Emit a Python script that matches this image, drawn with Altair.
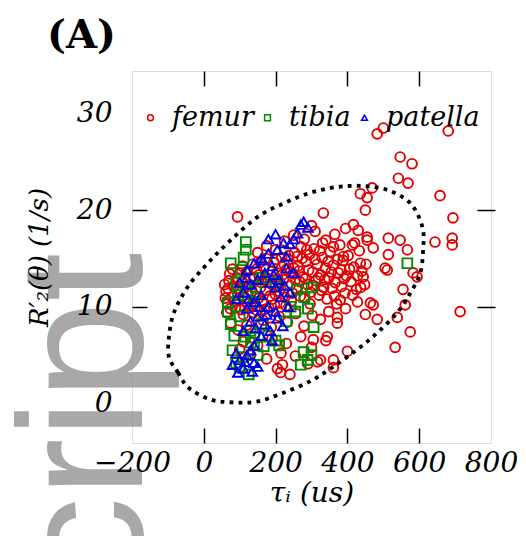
import altair as alt
import pandas as pd

# ---------------- data ----------------
series_names = ["femur", "tibia", "patella"]
series_colors = ["#e00000", "#008c00", "#0000e6"]
series_shapes = ["circle", "square", "triangle-up"]

femur_points = [
    (62, 11.6), (66, 10.3), (70, 12.7), (64, 9.4), (72, 13.4), (78, 11.0), (83, 12.1), (88, 9.9),
    (92, 13.0), (97, 10.7), (101, 11.8), (106, 12.6), (110, 9.2), (114, 10.9), (118, 13.6), (123, 11.4),
    (127, 12.3), (131, 10.1), (136, 14.4), (140, 12.9), (145, 11.1), (149, 9.6), (154, 13.3), (158, 12.0),
    (163, 10.5), (167, 14.1), (172, 11.7), (176, 13.0), (181, 9.9), (186, 12.4), (190, 10.8), (195, 14.6),
    (199, 11.3), (204, 13.5), (208, 12.1), (213, 10.4), (217, 15.1), (222, 12.8), (226, 11.0), (231, 13.9),
    (235, 14.9), (240, 12.2), (244, 10.6), (249, 13.4), (253, 15.6), (258, 11.9), (262, 14.2), (267, 12.6),
    (271, 16.2), (276, 13.1), (280, 10.9), (285, 14.7), (289, 12.3), (294, 15.4), (298, 11.5), (303, 13.6),
    (307, 16.0), (312, 12.7), (316, 14.4), (321, 11.2), (325, 13.3), (330, 15.1), (334, 12.0), (339, 14.0),
    (343, 10.8), (348, 13.0), (352, 15.7), (357, 11.9), (361, 14.3), (366, 12.5), (370, 10.3), (375, 13.5),
    (379, 16.4), (384, 12.1), (388, 14.8), (393, 11.4), (397, 13.2), (402, 15.3), (410, 12.6), (418, 14.1),
    (425, 11.8), (433, 15.8), (440, 13.7), (448, 12.3), (455, 16.9),
    (58, 12.3), (60, 10.9), (68, 11.9), (74, 9.8), (80, 13.9), (86, 10.6), (91, 11.9), (99, 13.5),
    (104, 9.7), (108, 14.2), (116, 12.0), (121, 10.3), (129, 13.0), (134, 11.6), (138, 9.4), (147, 13.9),
    (152, 10.9), (157, 14.6), (161, 12.5), (169, 9.7), (174, 15.0), (179, 12.8), (184, 11.1), (192, 13.7),
    (197, 10.2), (202, 14.9), (206, 12.9), (211, 11.6), (219, 13.3), (224, 14.4), (229, 10.1), (237, 15.3),
    (242, 13.6), (247, 11.4), (251, 14.0), (255, 12.8), (265, 13.7), (269, 11.1), (274, 15.0), (283, 12.9),
    (287, 15.9), (292, 13.8), (296, 10.3), (305, 12.2), (310, 14.9), (319, 13.0), (323, 15.8), (328, 11.7),
    (337, 12.8), (346, 14.7), (355, 13.6), (364, 11.1), (373, 14.9), (382, 13.8), (391, 12.9), (406, 13.9),
    (415, 11.2), (428, 13.2), (437, 12.0), (452, 14.4),
    (75, 8.3), (95, 7.6), (120, 8.1), (142, 7.2), (165, 8.6), (188, 7.9), (210, 9.0), (233, 8.4),
    (256, 9.3), (279, 8.0), (302, 9.1), (325, 8.7), (348, 9.5), (372, 8.9), (395, 9.8), (110, 6.4),
    (150, 6.0), (190, 6.7), (230, 6.2), (270, 6.9), (300, 5.8), (340, 6.5), (130, 5.0), (175, 4.6),
    (215, 5.2), (255, 4.9), (290, 4.1), (205, 3.6), (240, 3.0), (100, 5.6),
    (150, 15.6), (175, 16.3), (200, 15.9), (225, 16.8), (250, 17.4), (280, 17.0), (310, 17.8), (340, 16.9),
    (365, 17.5), (395, 18.1), (420, 16.6), (300, 18.4), (260, 15.2),
    (483, 27.9), (500, 28.5), (681, 28.2), (547, 25.5), (580, 24.8), (542, 23.3), (569, 22.8), (658, 21.5),
    (436, 21.7), (469, 22.3), (455, 21.3), (450, 20.0), (333, 19.7), (94, 19.3), (694, 19.2), (417, 18.5),
    (430, 17.9), (455, 17.2), (514, 17.1), (547, 16.9), (644, 16.7), (692, 17.1), (692, 16.4), (331, 16.6),
    (361, 16.2), (414, 16.4), (472, 16.1), (514, 15.4), (567, 15.9), (389, 15.2), (436, 14.5), (505, 14.0),
    (594, 13.1), (511, 13.8), (583, 13.5), (444, 13.1), (561, 10.2), (714, 9.5), (539, 8.9), (575, 7.4),
    (533, 5.8), (400, 5.4), (361, 4.5), (317, 4.3), (361, 3.7), (428, 10.5), (472, 10.2), (450, 9.2),
    (483, 8.7), (380, 10.7), (372, 8.3), (344, 6.9), (305, 6.6), (325, 4.5), (214, 3.2), (219, 4.0),
    (555, 11.8), (464, 10.4),
]

tibia_points = [
    (567, 14.5), (117, 16.7), (117, 15.9), (111, 15.1), (75, 14.5), (103, 13.8), (67, 10.4), (67, 9.5),
    (242, 10.0), (255, 9.5), (290, 9.8), (306, 7.9), (278, 5.3), (289, 4.5), (300, 5.0), (167, 5.9),
    (131, 6.3), (90, 12.5), (120, 11.5), (140, 10.5), (100, 9.0), (160, 8.2), (130, 7.5), (180, 7.0),
    (200, 6.5), (150, 5.0), (90, 4.2), (80, 5.5), (110, 4.8), (85, 7.0), (75, 8.2), (230, 8.5),
    (280, 11.0), (300, 12.0), (270, 4.0), (160, 13.0), (200, 12.5), (100, 3.8), (125, 3.0), (210, 6.0),
    (140, 6.8), (95, 11.2), (145, 12.0), (115, 6.9), (260, 11.8),
]

patella_points = [
    (278, 18.8), (261, 17.6), (290, 18.2), (270, 18.5), (222, 16.6), (205, 15.9), (240, 16.5), (180, 15.5),
    (160, 15.0), (140, 14.5), (190, 14.2), (120, 13.8), (170, 13.5), (150, 12.8), (130, 12.3), (200, 12.0),
    (110, 11.5), (160, 11.2), (140, 10.5), (180, 10.0), (120, 9.8), (200, 9.5), (150, 9.0), (130, 8.5),
    (170, 8.2), (220, 8.0), (110, 7.5), (160, 7.0), (190, 6.5), (140, 6.0), (210, 12.8), (230, 14.0),
    (100, 12.5), (90, 10.8), (120, 5.0), (100, 4.5), (80, 4.0), (140, 4.2), (110, 3.6), (95, 3.2),
    (130, 5.5), (150, 3.8), (250, 17.0), (230, 15.2), (180, 17.0), (200, 17.5),
    (120, 13.0), (165, 14.8), (185, 12.5), (215, 11.0), (235, 10.0), (205, 8.8), (175, 9.2), (145, 7.8),
    (125, 10.8), (195, 13.3), (225, 12.2), (250, 13.5), (240, 11.5), (155, 10.0), (185, 7.5), (115, 4.3),
    (135, 3.3), (90, 5.2),
]

# dotted ellipse
ellipse_points = [
    (-97, 4.8), (-72, 3.2), (-42, 1.6), (19, 0.4), (83, 0.1), (150, 0.2), (222, 1.1), (297, 2.3),
    (361, 3.8), (428, 5.6), (483, 7.3), (539, 9.4), (575, 11.4), (603, 13.5), (611, 15.9), (611, 17.9),
    (594, 19.7), (567, 21.0), (511, 22.1), (444, 22.5), (372, 22.4), (297, 21.8), (222, 20.7), (150, 19.3),
    (75, 16.9), (11, 14.5), (-44, 12.1), (-83, 9.4), (-97, 6.9),
]

x_ticks = [-200, 0, 200, 400, 600, 800]
y_ticks = [0, 10, 20, 30]
x_inner_ticks = [0, 200, 400, 600]
y_inner_ticks = [10, 20]
watermark_text = ["script"]

# ---------------- tables ----------------
rows = []
idx = 0
for name, pts in zip(series_names, [femur_points, tibia_points, patella_points]):
    for t, r in pts:
        rows.append({"tau": t, "r2": r, "bone": name, "idx": idx})
        idx += 1
df = pd.DataFrame(rows)

ell_df = pd.DataFrame({
    "tau": [p[0] for p in ellipse_points],
    "r2": [p[1] for p in ellipse_points],
    "k": list(range(len(ellipse_points))),
})
wm_df = pd.DataFrame({"w": watermark_text})

FONT = "DejaVu Serif"
xscale = alt.Scale(domain=[-200, 800], nice=False, zero=False)
yscale = alt.Scale(domain=[-4.1, 34.4], nice=False, zero=False)

x_bottom = alt.Axis(
    values=x_ticks, orient="bottom", offset=-15, tickSize=15, tickWidth=1.5, tickColor="black",
    tickOpacity={"condition": {"test": "datum.value < -100 || datum.value > 700", "value": 0}, "value": 1},
    domain=False, grid=False, labelFont=FONT, labelFontStyle="italic", labelFontSize=28,
    labelColor="black", labelPadding=6, labelOverlap=False, labelFlush=False,
    title="τᵢ  (us)", titleFont=FONT, titleFontStyle="italic", titleFontWeight="normal",
    titleFontSize=28, titleColor="black", titlePadding=2, zindex=1,
)
y_left = alt.Axis(
    values=y_ticks, orient="left", offset=-15, tickSize=15, tickWidth=1.5, tickColor="black",
    tickOpacity={"condition": {"test": "datum.value < 5 || datum.value > 25", "value": 0}, "value": 1},
    domain=False, grid=False, labelFont=FONT, labelFontStyle="italic", labelFontSize=28,
    labelColor="black", labelPadding=20, labelOverlap=False, labelFlush=False,
    title="R′₂(θ)  (1/s)", titleFont=FONT, titleFontStyle="italic", titleFontWeight="normal",
    titleFontSize=26, titleColor="black", titlePadding=24, zindex=1,
)
x_top = alt.Axis(
    values=x_inner_ticks, orient="top", offset=-15, tickSize=15, tickWidth=1.5, tickColor="black",
    domain=False, grid=False, labels=False, title=None,
)
y_right = alt.Axis(
    values=y_inner_ticks, orient="right", offset=-14, tickSize=18, tickWidth=1.5, tickColor="black",
    domain=False, grid=False, labels=False, title=None,
)

legend = alt.Legend(
    title=None, orient="none", legendX=5, legendY=33, direction="horizontal",
    labelFont=FONT, labelFontStyle="italic", labelFontSize=27, labelColor="black",
    symbolSize=34, symbolStrokeWidth=1.5, labelOffset=8, columnPadding=0,
)

watermark = alt.Chart(wm_df).mark_text(
    align="left", baseline="alphabetic", angle=270, font="Liberation Sans",
    fontSize=176, color="#999999", opacity=0.85,
).encode(text="w:N", x=alt.value(10), y=alt.value(602))

points = alt.Chart(df).mark_point(filled=False, size=95, strokeWidth=1.9, opacity=1).encode(
    x=alt.X("tau:Q", scale=xscale, axis=x_top),
    y=alt.Y("r2:Q", scale=yscale, axis=y_right),
    color=alt.Color("bone:N", scale=alt.Scale(domain=series_names, range=series_colors), legend=legend),
    shape=alt.Shape("bone:N", scale=alt.Scale(domain=series_names, range=series_shapes), legend=legend),
    order=alt.Order("idx:Q"),
)

ellipse = alt.Chart(ell_df).mark_line(
    interpolate="cardinal-closed", color="black", strokeWidth=3.8, strokeDash=[3.8, 5.2],
).encode(
    x=alt.X("tau:Q", scale=xscale, axis=x_bottom),
    y=alt.Y("r2:Q", scale=yscale, axis=y_left),
    order=alt.Order("k:Q"),
)

chart = alt.layer(watermark, points, ellipse).properties(
    width=359, height=372,
    autosize="none",
    padding={"left": 132, "top": 71, "right": 35, "bottom": 93},
    title=alt.TitleParams(
        "(A)", anchor="start", frame="group", font=FONT, fontSize=40, fontWeight="bold",
        color="black", dx=-85, dy=40, offset=22, baseline="alphabetic",
    ),
).configure_view(stroke="black", strokeWidth=2).configure(background="white")

chart.save("out.html", embed_options={"renderer": "svg", "actions": False})
